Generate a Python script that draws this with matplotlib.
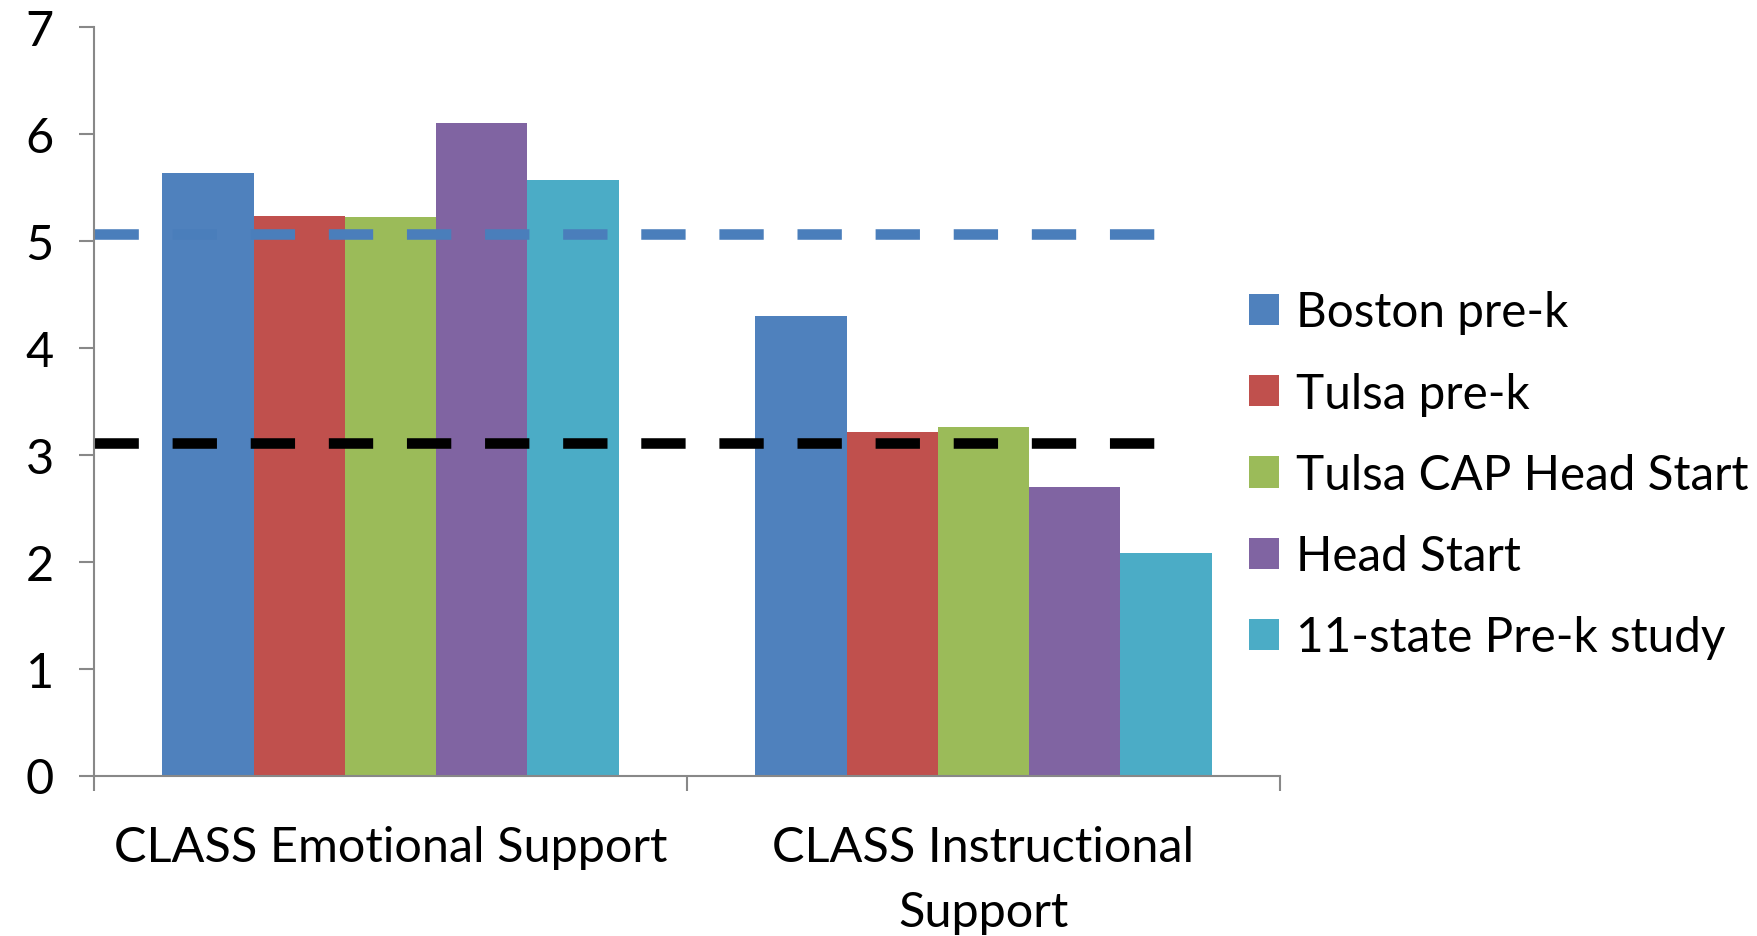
import matplotlib
matplotlib.use("Agg")
import matplotlib.pyplot as plt
import numpy as np

categories = ["CLASS Emotional Support", "CLASS Instructional\nSupport"]
series_names = ["Boston pre-k", "Tulsa pre-k", "Tulsa CAP Head Start", "Head Start", "11-state Pre-k study"]
boston = [5.63, 4.30]
tulsa = [5.23, 3.21]
tulsa_cap = [5.22, 3.26]
head_start = [6.10, 2.70]
eleven_state = [5.57, 2.08]
ref_blue = 5.06
ref_black = 3.11
yticks = [0, 1, 2, 3, 4, 5, 6, 7]

colors = ["#4F81BD", "#C0504D", "#9BBB59", "#8064A2", "#4BACC6"]
series = [boston, tulsa, tulsa_cap, head_start, eleven_state]

plt.rcParams['font.family'] = ['Lato', 'DejaVu Sans']
FS = 35

fig = plt.figure(figsize=(17.57, 9.37), dpi=100)
ax = fig.add_axes([94/1757, 1-776.5/937, (1280-94)/1757, (776.5-28)/937])

x = np.arange(len(categories))
bw = 1/6.5
for i, (vals, c, name) in enumerate(zip(series, colors, series_names)):
    ax.bar(x + (i-2)*bw, vals, width=bw, color=c, label=name, linewidth=0)

lw = 7.6
ax.plot([-0.5, 1.305], [ref_blue, ref_blue], color="#4A7EBB", lw=lw, dashes=(4.2, 3.2), dash_capstyle='butt')
ax.plot([-0.5, 1.305], [ref_black, ref_black], color="black", lw=lw, dashes=(4.2, 3.2), dash_capstyle='butt')

ax.set_xlim(-0.5, 1.5)
ax.set_ylim(0, 7)
for s in ["top", "right"]:
    ax.spines[s].set_visible(False)
for s in ["left", "bottom"]:
    ax.spines[s].set_color("#888888")
    ax.spines[s].set_linewidth(1.5)

ax.set_yticks(yticks)
ax.set_yticklabels([str(v) for v in yticks], fontsize=FS)
ax.tick_params(axis='y', length=11, width=1.5, color="#888888", pad=18)

ax.set_xticks([-0.5, 0.5, 1.5])
ax.set_xticklabels(["", "", ""])
ax.tick_params(axis='x', which='major', length=11, width=1.5, color="#888888")
ax.set_xticks(x, minor=True)
ax.set_xticklabels(categories, minor=True, fontsize=FS, linespacing=1.58)
ax.tick_params(axis='x', which='minor', length=0, pad=36)

handles, labels = ax.get_legend_handles_labels()
leg = fig.legend(handles, labels, loc='center left', bbox_to_anchor=(1249/1757, 1-475.7/937), frameon=False,
                 fontsize=34.3, handlelength=0.63, handleheight=0.63, handletextpad=0.35,
                 labelspacing=0.78, borderpad=0, borderaxespad=0)

fig.savefig("out.png", dpi=100)
